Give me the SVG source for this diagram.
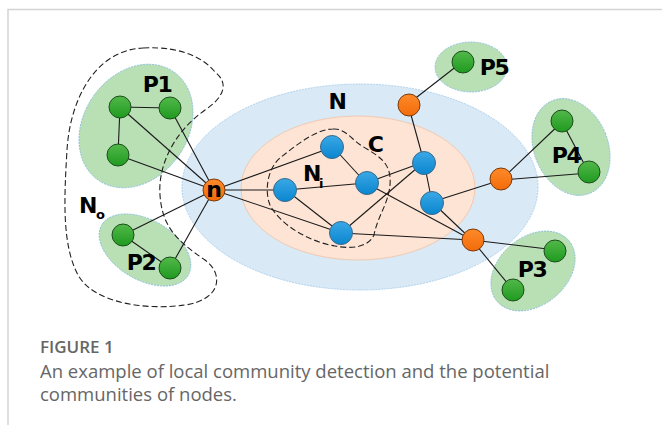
<svg xmlns="http://www.w3.org/2000/svg" width="662" height="425" viewBox="0 0 662 425">
<defs>
<linearGradient id="gG" x1="0" y1="0" x2="0" y2="1"><stop offset="0" stop-color="#52b84a"/><stop offset="1" stop-color="#1f9a1f"/></linearGradient>
<linearGradient id="gB" x1="0" y1="0" x2="0" y2="1"><stop offset="0" stop-color="#3aa8e6"/><stop offset="1" stop-color="#0a86cf"/></linearGradient>
<linearGradient id="gO" x1="0" y1="0" x2="0" y2="1"><stop offset="0" stop-color="#ff8a2a"/><stop offset="1" stop-color="#f26b0a"/></linearGradient>
</defs>
<style>
.frame{stroke:#d4d4d4;stroke-width:1.5;fill:none}
.grp{fill:#b9dfb4;stroke:#7fb9d9;stroke-width:0.8;stroke-dasharray:2 1}
.dash{fill:none;stroke:#222;stroke-width:1.1;stroke-dasharray:6 3}
.e{stroke:#1a1a1a;stroke-width:1.1}
.g{fill:url(#gG);stroke:#1d4d1d;stroke-width:1}
.b{fill:url(#gB);stroke:#3b6b8a;stroke-width:1}
.o{fill:url(#gO);stroke:#7a3a0a;stroke-width:1}
.lbl{font-family:"DejaVu Sans",sans-serif;font-weight:bold;font-size:22px;fill:#000;letter-spacing:-1.5px}
.sub{font-family:"DejaVu Sans",sans-serif;font-weight:bold;font-size:13px;fill:#000}
.cap{font-family:"Open Sans","DejaVu Sans",sans-serif;fill:#666}
</style>
<rect x="0" y="0" width="662" height="425" fill="#fff"/>
<path class="frame" d="M8 425 V9.5 H662"/>
<g id="regionN"><ellipse cx="360" cy="187" rx="178" ry="103" fill="#d9e9f6" stroke="#9cc7e8" stroke-width="0.8" stroke-dasharray="2 1"/></g>
<g id="regionC"><ellipse cx="358" cy="188" rx="117" ry="72" fill="#fde4d5" stroke="#f3c1a2" stroke-width="0.8"/></g>
<g id="groupP1"><ellipse class="grp" cx="136" cy="126" rx="52" ry="66" transform="rotate(35 136 126)"/></g>
<g id="groupP2"><ellipse class="grp" cx="145" cy="250" rx="50" ry="30" transform="rotate(30 145 250)"/></g>
<g id="groupP3"><ellipse class="grp" cx="533" cy="271" rx="47" ry="34" transform="rotate(-40 533 271)"/></g>
<g id="groupP4"><ellipse class="grp" cx="571" cy="147" rx="37" ry="50" transform="rotate(-22 571 147)"/></g>
<g id="groupP5"><ellipse class="grp" cx="471" cy="67" rx="36" ry="25"/></g>
<g id="regionNo"><path class="dash" d="M143 48 C185 46 205 60 215 72 C228 82 226 96 205 110 C170 135 158 170 160 195 C162 225 175 240 205 260 C225 275 220 300 185 305 C150 310 95 305 78 275 C62 245 64 200 67 150 C70 100 95 50 143 48 Z"/></g>
<g id="regionNi"><path class="dash" d="M333 129 C345 128 352 140 362 146 C378 156 392 162 390 185 C388 205 378 215 374 235 C368 248 350 249 335 246 C310 242 280 225 270 205 C264 190 268 168 280 158 C295 146 316 129 333 129 Z"/></g>
<g id="edges">
<line class="e" x1="120" y1="107" x2="170" y2="108"/>
<line class="e" x1="120" y1="107" x2="118" y2="155"/>
<line class="e" x1="120" y1="107" x2="214" y2="190"/>
<line class="e" x1="170" y1="108" x2="214" y2="190"/>
<line class="e" x1="118" y1="155" x2="214" y2="190"/>
<line class="e" x1="123" y1="235" x2="170" y2="268"/>
<line class="e" x1="123" y1="235" x2="214" y2="190"/>
<line class="e" x1="170" y1="268" x2="214" y2="190"/>
<line class="e" x1="214" y1="190" x2="333" y2="147"/>
<line class="e" x1="214" y1="190" x2="286" y2="190"/>
<line class="e" x1="214" y1="190" x2="341" y2="233"/>
<line class="e" x1="333" y1="147" x2="366" y2="183"/>
<line class="e" x1="286" y1="190" x2="366" y2="183"/>
<line class="e" x1="286" y1="190" x2="341" y2="233"/>
<line class="e" x1="341" y1="233" x2="424" y2="162"/>
<line class="e" x1="341" y1="233" x2="472" y2="240"/>
<line class="e" x1="366" y1="183" x2="424" y2="162"/>
<line class="e" x1="366" y1="183" x2="472" y2="240"/>
<line class="e" x1="424" y1="162" x2="432" y2="202"/>
<line class="e" x1="424" y1="162" x2="408" y2="104"/>
<line class="e" x1="432" y1="202" x2="472" y2="240"/>
<line class="e" x1="432" y1="202" x2="501" y2="180"/>
<line class="e" x1="408" y1="104" x2="462" y2="62"/>
<line class="e" x1="501" y1="180" x2="562" y2="122"/>
<line class="e" x1="501" y1="180" x2="589" y2="173"/>
<line class="e" x1="562" y1="122" x2="589" y2="173"/>
<line class="e" x1="472" y1="240" x2="556" y2="250"/>
<line class="e" x1="472" y1="240" x2="513" y2="290"/>
</g>
<g id="p1a"><circle class="g" cx="120" cy="107" r="11"/></g>
<g id="p1b"><circle class="g" cx="170" cy="108" r="11"/></g>
<g id="p1c"><circle class="g" cx="118" cy="155" r="11"/></g>
<g id="p2a"><circle class="g" cx="123" cy="235" r="11"/></g>
<g id="p2b"><circle class="g" cx="170" cy="268" r="11"/></g>
<g id="p3a"><circle class="g" cx="555" cy="251" r="11"/></g>
<g id="p3b"><circle class="g" cx="513" cy="290" r="11"/></g>
<g id="p4a"><circle class="g" cx="562" cy="121" r="11"/></g>
<g id="p4b"><circle class="g" cx="589" cy="172" r="11"/></g>
<g id="p5a"><circle class="g" cx="463" cy="62" r="11"/></g>
<g id="b1"><circle class="b" cx="332" cy="147" r="11.5"/></g>
<g id="b2"><circle class="b" cx="285" cy="190" r="11.5"/></g>
<g id="b3"><circle class="b" cx="367" cy="183" r="11.5"/></g>
<g id="b4"><circle class="b" cx="341" cy="233" r="11.5"/></g>
<g id="b5"><circle class="b" cx="424" cy="163" r="11.5"/></g>
<g id="b6"><circle class="b" cx="432" cy="203" r="11.5"/></g>
<g id="o1"><circle class="o" cx="409" cy="105" r="11"/></g>
<g id="o2"><circle class="o" cx="501" cy="179" r="11"/></g>
<g id="o3"><circle class="o" cx="473" cy="240" r="11"/></g>
<g id="nodeN"><circle class="o" cx="214" cy="190" r="11"/><text class="lbl" x="214" y="197" text-anchor="middle" style="letter-spacing:0">n</text></g>
<g id="labels">
<text class="lbl" x="157" y="92" text-anchor="middle">P1</text>
<text class="lbl" x="141" y="270" text-anchor="middle">P2</text>
<text class="lbl" x="532" y="277" text-anchor="middle">P3</text>
<text class="lbl" x="566" y="163" text-anchor="middle">P4</text>
<text class="lbl" x="494" y="75" text-anchor="middle">P5</text>
<text class="lbl" x="337" y="109" text-anchor="middle">N</text>
<text class="lbl" x="375" y="152" text-anchor="middle">C</text>
<text class="lbl" x="303" y="181">N</text><text class="sub" x="319" y="188">i</text>
<text class="lbl" x="79" y="213">N</text><text class="sub" x="96" y="219">o</text>
</g>
<g id="caption">
<text class="cap" x="40" y="353" font-size="17" font-weight="600">FIGURE 1</text>
<text class="cap" x="40" y="378" font-size="18.5">An example of local community detection and the potential</text>
<text class="cap" x="40" y="401" font-size="18.5">communities of nodes.</text>
</g>
</svg>
